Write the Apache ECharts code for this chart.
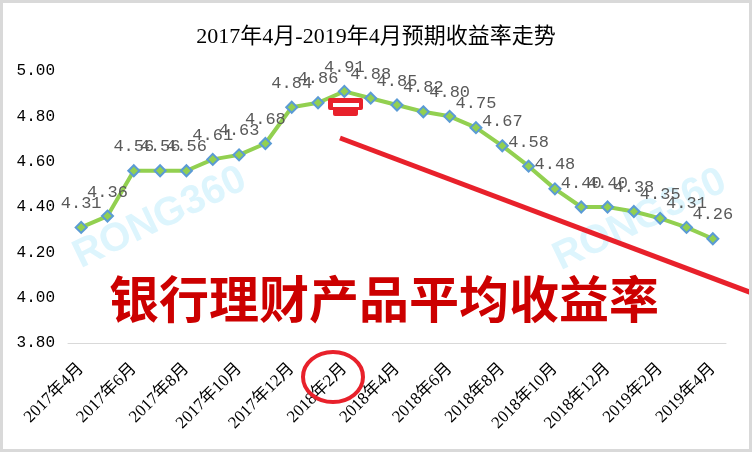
<!DOCTYPE html>
<html><head><meta charset="utf-8">
<script src="https://cdn.jsdelivr.net/npm/echarts@6/dist/echarts.min.js"></script>
<style>html,body{margin:0;padding:0;background:#fff}#c{width:752px;height:452px}</style>
</head><body><div id="c"></div>
<script>
const categories = ['2017年4月','2017年5月','2017年6月','2017年7月','2017年8月','2017年9月','2017年10月','2017年11月','2017年12月','2018年1月','2018年2月','2018年3月','2018年4月','2018年5月','2018年6月','2018年7月','2018年8月','2018年9月','2018年10月','2018年11月','2018年12月','2019年1月','2019年2月','2019年3月','2019年4月'];
const yields = [4.31,4.36,4.56,4.56,4.56,4.61,4.63,4.68,4.84,4.86,4.91,4.88,4.85,4.82,4.80,4.75,4.67,4.58,4.48,4.40,4.40,4.38,4.35,4.31,4.26];
const titleText = '2017年4月-2019年4月预期收益率走势';
const overlayText = '银行理财产品平均收益率';
const watermark = 'RONG360';

const chart = echarts.init(document.getElementById('c'));
const serif = '"Liberation Serif","Noto Sans CJK SC",serif';
const mono = '"Liberation Mono","DejaVu Sans Mono",monospace';
const wmStyle = {text: watermark, x: 0, y: 0, font: 'bold 40px "Liberation Sans",Arial,sans-serif', fill: '#DDF5FD', textAlign: 'center', textVerticalAlign: 'middle'};
chart.setOption({
  animation: false,
  backgroundColor: '#fff',
  title: {
    text: titleText, left: 'center', top: 21,
    textStyle: {fontFamily: serif, fontSize: 22, fontWeight: 'normal', color: '#000'}
  },
  grid: {left: 68, right: 26, top: 71, bottom: 109},
  xAxis: {
    type: 'category', data: categories, boundaryGap: true,
    axisLine: {lineStyle: {color: '#D9D9D9', width: 1}},
    axisTick: {interval: 1, length: 5, lineStyle: {color: '#D9D9D9'}},
    axisLabel: {interval: 1, rotate: 45, margin: 23, fontFamily: serif, fontSize: 17, color: '#000'}
  },
  yAxis: {
    type: 'value', min: 3.8, max: 5.0, interval: 0.2,
    axisLine: {show: false}, axisTick: {show: false}, splitLine: {show: false},
    axisLabel: {margin: 13, fontFamily: mono, fontSize: 16, color: '#000', formatter: v => v.toFixed(2)}
  },
  series: [{
    type: 'line', data: yields,
    lineStyle: {color: '#92D050', width: 4},
    symbol: 'diamond', symbolSize: 11,
    itemStyle: {color: '#92D050', borderColor: '#5B9BD5', borderWidth: 2},
    label: {show: true, position: 'top', distance: 9, fontFamily: mono, fontSize: 17, color: '#595959', formatter: p => p.value.toFixed(2)},
    z: 3
  }],
  graphic: [
    {type: 'text', x: 160, y: 218, rotation: 0.45, z: 1, silent: true, style: wmStyle},
    {type: 'text', x: 640, y: 220, rotation: 0.45, z: 1, silent: true, style: Object.assign({}, wmStyle)},
    {type: 'line', shape: {x1: 340, y1: 138, x2: 760, y2: 296}, style: {stroke: '#E8212B', lineWidth: 5}, z: 10},
    {type: 'ellipse', shape: {cx: 333, cy: 377, rx: 30, ry: 25}, style: {fill: 'none', stroke: '#E8212B', lineWidth: 4}, z: 10},
    {type: 'rect', shape: {x: 328, y: 98, width: 35, height: 12, r: 2}, style: {fill: '#E8212B'}, z: 10},
    {type: 'rect', shape: {x: 333, y: 108, width: 25, height: 8, r: 2}, style: {fill: '#E8212B'}, z: 10},
    {type: 'rect', shape: {x: 333, y: 103, width: 26, height: 4}, style: {fill: '#fff'}, z: 11},
    {type: 'text', z: 12, style: {text: overlayText, x: 384, y: 299, font: 'bold 50px "Noto Sans CJK SC",sans-serif', fill: '#CC0000', textAlign: 'center', textVerticalAlign: 'middle'}},
    {type: 'rect', shape: {x: 1.5, y: 1.5, width: 749, height: 449}, style: {fill: 'none', stroke: '#D9D9D9', lineWidth: 3}, z: 20}
  ]
});
</script></body></html>
